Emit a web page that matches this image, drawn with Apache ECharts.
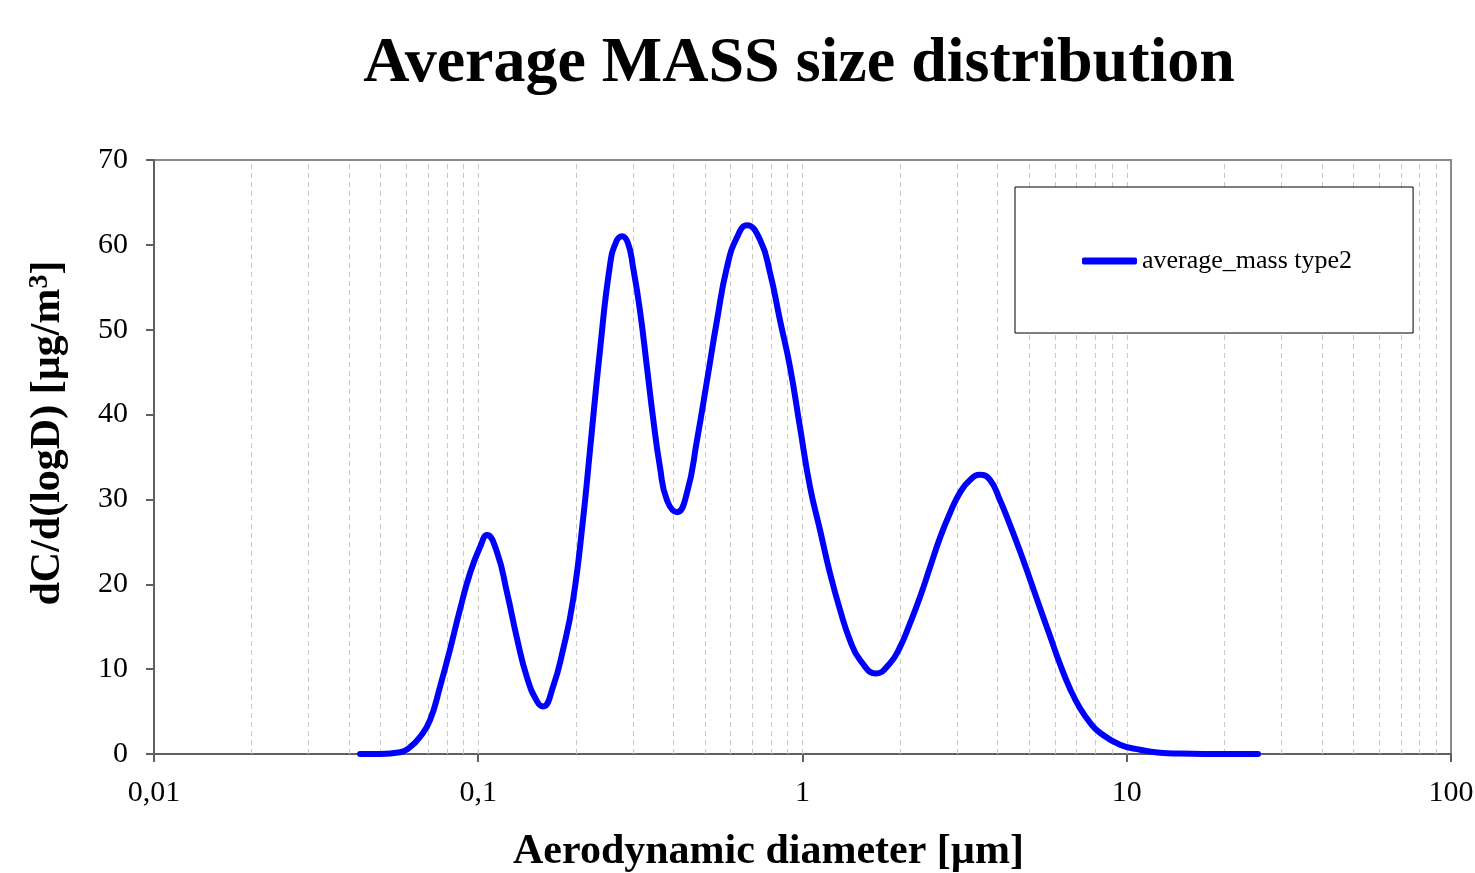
<!DOCTYPE html>
<html>
<head>
<meta charset="utf-8">
<script src="https://cdn.jsdelivr.net/npm/echarts@6/dist/echarts.min.js"></script>
<style>
html,body{margin:0;padding:0;background:#fff;}
#chart{width:1475px;height:873px;}
</style>
</head>
<body>
<div id="chart"></div>
<script>
// Aerodynamic diameter [µm]
const diameters = [
  0.0432, 0.0498, 0.0574, 0.0616, 0.0661, 0.0710, 0.0762, 0.0818, 0.0878, 0.0943,
  0.1013, 0.1064, 0.1142, 0.1227, 0.1317, 0.1414, 0.1518, 0.1584, 0.1700, 0.1826,
  0.1960, 0.2104, 0.2211, 0.2374, 0.2548, 0.2659, 0.2775, 0.2896, 0.3001, 0.3152,
  0.3313, 0.3458, 0.3635, 0.3820, 0.4102, 0.4404, 0.4728, 0.5076, 0.5448, 0.5851,
  0.6281, 0.6743, 0.7395, 0.7942, 0.8524, 0.9152, 0.9824, 1.0546, 1.1324, 1.2156,
  1.3052, 1.4013, 1.5039, 1.6856, 1.8617, 1.9985, 2.1456, 2.3037, 2.4733, 2.6558,
  2.8503, 3.0595, 3.2857, 3.5270, 3.7872, 4.0653, 4.3641, 4.6860, 5.0303, 5.4014,
  5.7985, 6.2240, 6.6834, 7.1747, 7.7035, 8.2701, 9.533, 10.99, 12.66, 14.59,
  18.06, 25.40
];
// dC/d(logD) [µg/m3]
const massValues = [
  0.0, 0.0, 0.2, 0.8, 2.0, 4.0, 7.9, 12.3, 17.0, 21.3,
  24.4, 25.8, 23.8, 19.0, 13.6, 9.0, 6.2, 5.6, 7.9, 12.3,
  18.1, 27.6, 35.8, 47.6, 57.6, 60.3, 61.0, 60.2, 57.4, 52.3,
  45.6, 39.7, 33.8, 29.9, 28.5, 30.8, 37.0, 44.0, 51.1, 57.4,
  60.9, 62.3, 60.6, 56.7, 51.1, 45.6, 38.5, 31.5, 26.4, 21.3,
  17.0, 13.4, 11.1, 9.5, 10.7, 12.6, 15.4, 18.5, 22.0, 25.5,
  28.4, 30.8, 32.3, 32.9, 32.3, 29.9, 27.0, 23.9, 20.6, 17.2,
  13.9, 10.6, 7.7, 5.4, 3.7, 2.5, 1.1, 0.5, 0.15, 0.05,
  0.01, 0.0
];
const seriesName = 'average_mass type2';
const decades = [0.01, 0.1, 1, 10];
const minorMultipliers = [2, 3, 4, 5, 6, 7, 8, 9];
const yTicks = [0, 10, 20, 30, 40, 50, 60, 70];

const gridValues = [];
decades.forEach(d => {
  if (d > 0.01) gridValues.push(d);
  minorMultipliers.forEach(m => gridValues.push(+(d * m).toPrecision(3)));
});

const pts = diameters.map((d, i) => [d, massValues[i]]);
const serif = '"Liberation Serif", "Times New Roman", serif';

const chart = echarts.init(document.getElementById('chart'), null, {renderer: 'canvas'});
chart.setOption({
  backgroundColor: '#ffffff',
  animation: false,
  title: {
    text: 'Average MASS size distribution',
    left: 794,
    top: 27,
    textAlign: 'center',
    textStyle: {fontFamily: serif, fontWeight: 'bold', fontSize: 64, color: '#000'}
  },
  legend: {
    z: 20,
    left: 1015,
    top: 187,
    orient: 'horizontal',
    padding: [61, 61, 59, 67],
    borderColor: '#000',
    borderWidth: 1,
    backgroundColor: '#fff',
    itemWidth: 55,
    itemHeight: 7,
    icon: 'roundRect',
    itemStyle: {color: '#0000ff', borderWidth: 0},
    lineStyle: {width: 0, opacity: 0},
    textStyle: {fontFamily: serif, fontSize: 26, color: '#000', lineHeight: 26},
    data: [seriesName]
  },
  grid: {
    left: 154, right: 24, top: 160, bottom: 119,
    outerBoundsMode: 'none',
    containLabel: false,
    show: true, borderColor: '#8a8a8a', borderWidth: 2, backgroundColor: '#fff'
  },
  xAxis: {
    type: 'log',
    logBase: 10,
    min: 0.01,
    max: 100,
    name: 'Aerodynamic diameter [µm]',
    nameLocation: 'middle',
    nameGap: 77,
    nameTextStyle: {fontFamily: serif, fontWeight: 'bold', fontSize: 42, color: '#000', padding: [0, 68, 0, 0]},
    axisLine: {show: true, onZero: false, lineStyle: {color: '#606060', width: 2}},
    axisTick: {show: true, inside: false, length: 8, lineStyle: {color: '#606060', width: 2}},
    axisLabel: {
      fontFamily: serif, fontSize: 30, color: '#000', margin: 24,
      formatter: v => String(v).replace('.', ',')
    },
    splitLine: {show: false},
    minorTick: {show: false},
    minorSplitLine: {show: false}
  },
  yAxis: {
    type: 'value',
    min: 0,
    max: 70,
    interval: 10,
    name: 'dC/d(logD) [µg/m{sup|3}]',
    nameLocation: 'middle',
    nameGap: 84,
    nameTextStyle: {
      fontFamily: serif, fontWeight: 'bold', fontSize: 42, color: '#000', padding: [0, 0, 0, 48],
      rich: {sup: {fontFamily: serif, fontWeight: 'bold', fontSize: 28, color: '#000', verticalAlign: 'top', padding: [0, 0, 16, 0]}}
    },
    axisLine: {show: true, lineStyle: {color: '#606060', width: 2}},
    axisTick: {show: true, inside: false, length: 8, lineStyle: {color: '#606060', width: 2}},
    axisLabel: {fontFamily: serif, fontSize: 30, color: '#000', margin: 26},
    splitLine: {show: false}
  },
  series: [
    {
      name: 'gridlines',
      type: 'line',
      data: [],
      silent: true,
      legendHoverLink: false,
      z: 1,
      markLine: {
        z: 1,
        silent: true,
        symbol: ['none', 'none'],
        label: {show: false},
        lineStyle: {color: '#c8c8c8', width: 1, type: [5, 4]},
        data: gridValues.map(v => ({xAxis: v}))
      }
    },
    {
      name: seriesName,
      type: 'line',
      data: pts,
      showSymbol: false,
      symbol: 'none',
      smooth: 0.5,
      lineStyle: {color: '#0000ff', width: 6, cap: 'round', join: 'round'},
      itemStyle: {color: '#0000ff'},
      z: 5
    }
  ]
});
</script>
</body>
</html>
